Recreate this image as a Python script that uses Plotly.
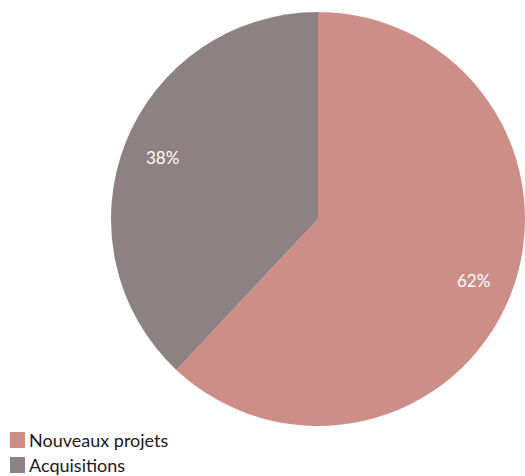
import math
import plotly.graph_objects as go

# Répartition des investissements
categories = ["Nouveaux projets", "Acquisitions"]
values = [62, 38]
colors = ["#CE8E88", "#8E8184"]

W, H = 525, 476
FONT = "Lato, Roboto, sans-serif"

# Pie placement in pixels (left, right, top, bottom of the pie's box)
PX_L, PX_R, PX_T, PX_B = 111, 525, 11, 427

fig = go.Figure(
    go.Pie(
        labels=categories,
        values=values,
        sort=False,
        direction="clockwise",
        rotation=0,
        marker=dict(colors=colors, line=dict(width=0)),
        textinfo="none",
        domain=dict(x=[PX_L / W, PX_R / W], y=[(H - PX_B) / H, (H - PX_T) / H]),
        showlegend=False,
        hoverinfo="label+percent",
    )
)

# Percentage labels placed on each slice's bisector
cx = (PX_L + PX_R) / 2
cy = (PX_T + PX_B) / 2
radius = min(PX_R - PX_L, PX_B - PX_T) / 2
label_r = 0.81 * radius
total = sum(values)
annotations = []
start = 0.0
for v in values:
    span = 360.0 * v / total
    mid = math.radians(start + span / 2)
    lx = cx + label_r * math.sin(mid)
    ly = cy - label_r * math.cos(mid)
    annotations.append(dict(
        text=f"{round(100 * v / total)}%", xref="paper", yref="paper",
        x=lx / W, y=(H - ly) / H, xanchor="center", yanchor="middle",
        showarrow=False, font=dict(size=17, color="white", family=FONT),
    ))
    start += span

# Legend drawn as colour swatches with labels, bottom-left
shapes = []
row_tops = [432, 457]
for name, col, top in zip(categories, colors, row_tops):
    shapes.append(dict(
        type="rect", xref="paper", yref="paper",
        x0=10 / W, x1=25 / W, y0=(H - top - 16) / H, y1=(H - top) / H,
        fillcolor=col, line=dict(width=0),
    ))
    annotations.append(dict(
        text=name, xref="paper", yref="paper",
        x=27 / W, y=(H - top - 8) / H, xanchor="left", yanchor="middle",
        showarrow=False, font=dict(size=18, color="#1a1a1a", family=FONT),
    ))

fig.update_layout(
    width=W, height=H,
    margin=dict(l=0, r=0, t=0, b=0),
    paper_bgcolor="white",
    plot_bgcolor="white",
    shapes=shapes,
    annotations=annotations,
)

fig.write_html("out.html")
